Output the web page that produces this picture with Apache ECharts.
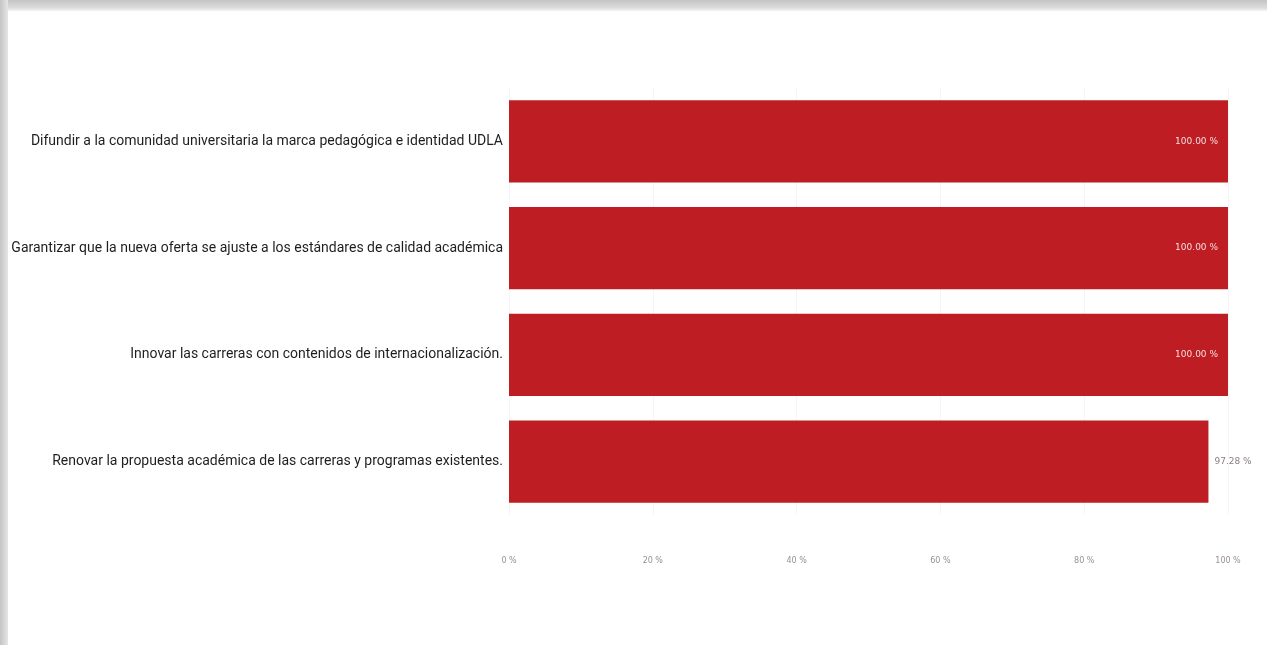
<!DOCTYPE html>
<html>
<head>
<meta charset="utf-8">
<script src="https://cdn.jsdelivr.net/npm/echarts@6/dist/echarts.min.js"></script>
<style>
  html, body { margin: 0; padding: 0; background: #ffffff; }
  #chart { width: 1267px; height: 645px; }
</style>
</head>
<body>
<div id="chart"></div>
<script>
// Objectives and their completion percentage (top to bottom as drawn)
const categories = [
  'Difundir a la comunidad universitaria la marca pedagógica e identidad UDLA',
  'Garantizar que la nueva oferta se ajuste a los estándares de calidad académica',
  'Innovar las carreras con contenidos de internacionalización.',
  'Renovar la propuesta académica de las carreras y programas existentes.'
];
const values = [100.00, 100.00, 100.00, 97.28];
const tickValues = [0, 20, 40, 60, 80, 100];

const chart = echarts.init(document.getElementById('chart'), null, { renderer: 'canvas' });

const option = {
  backgroundColor: '#ffffff',
  animation: false,
  graphic: [
    // soft frame shading along the top and left edges
    {
      type: 'rect', left: 0, top: 0, shape: { width: 1267, height: 11 },
      style: { fill: new echarts.graphic.LinearGradient(0, 0, 0, 1, [
        { offset: 0, color: '#c4c4c4' }, { offset: 0.7, color: '#dcdcdc' }, { offset: 1, color: '#f4f4f4' }
      ]) }, z: 10
    },
    {
      type: 'rect', left: 0, top: 0, shape: { width: 8, height: 645 },
      style: { fill: new echarts.graphic.LinearGradient(0, 0, 1, 0, [
        { offset: 0, color: '#c4c4c4' }, { offset: 1, color: '#e6e6e6' }
      ]) }, z: 10
    }
  ],
  grid: { left: 509, right: 39, top: 88, bottom: 130, containLabel: false },
  xAxis: {
    type: 'value', min: 0, max: 100, interval: 20,
    axisLine: { show: false }, axisTick: { show: false },
    splitLine: { show: true, lineStyle: { color: '#f5f5f5', width: 1 } },
    axisLabel: {
      color: '#9a9090', fontSize: 8, fontFamily: 'DejaVu Sans', margin: 42,
      formatter: v => tickValues.includes(v) ? v + ' %' : ''
    }
  },
  yAxis: {
    type: 'category', data: categories, inverse: true,
    axisLine: { show: false }, axisTick: { show: false },
    axisLabel: { color: '#1e1e1e', fontSize: 14, fontFamily: 'Roboto', margin: 6 }
  },
  series: [{
    type: 'bar',
    data: values.map(v => ({
      value: v,
      label: v >= 99
        ? { show: true, position: 'insideRight', color: '#f4dcdc', distance: 10 }
        : { show: true, position: 'right', color: '#8a8080', distance: 6 }
    })),
    barCategoryGap: '23%',
    itemStyle: { color: '#be1e23' },
    label: {
      show: true, fontSize: 9, fontFamily: 'DejaVu Sans',
      formatter: p => p.value.toFixed(2) + ' %'
    }
  }]
};

chart.setOption(option);
</script>
</body>
</html>
